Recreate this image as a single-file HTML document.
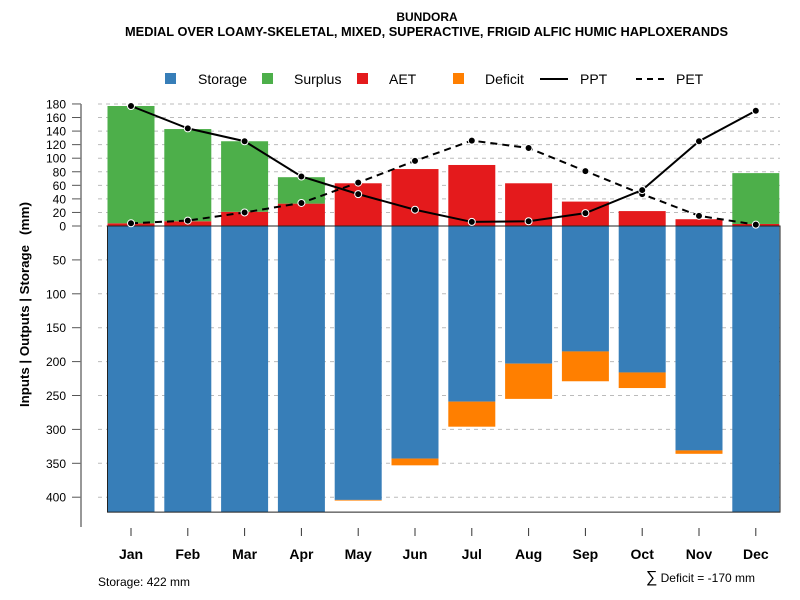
<!DOCTYPE html>
<html><head><meta charset="utf-8"><style>
html,body{margin:0;padding:0;background:#fff;}
svg{display:block;font-family:"Liberation Sans",sans-serif;}
</style></head><body>
<svg id="c" width="800" height="600" viewBox="0 0 800 600">
<text x="427" y="21" text-anchor="middle" font-size="12" font-weight="bold">BUNDORA</text>
<text x="125" y="36" textLength="603" lengthAdjust="spacingAndGlyphs" font-size="12.8" font-weight="bold">MEDIAL OVER LOAMY-SKELETAL, MIXED, SUPERACTIVE, FRIGID ALFIC HUMIC HAPLOXERANDS</text>
<g font-size="14">
<rect x="165" y="73" width="11" height="11" fill="#377eb8"/>
<text x="198" y="84">Storage</text>
<rect x="262" y="73" width="11" height="11" fill="#4daf4a"/>
<text x="294" y="84">Surplus</text>
<rect x="357" y="73" width="11" height="11" fill="#e41a1c"/>
<text x="389" y="84">AET</text>
<rect x="453" y="73" width="11" height="11" fill="#ff7f00"/>
<text x="485" y="84">Deficit</text>
<line x1="540" y1="79" x2="568" y2="79" stroke="#000" stroke-width="2"/>
<text x="580" y="84">PPT</text>
<line x1="636" y1="79" x2="664" y2="79" stroke="#000" stroke-width="2" stroke-dasharray="6,5"/>
<text x="676" y="84">PET</text>
</g>
<text transform="translate(29,407) rotate(-90)" textLength="162" lengthAdjust="spacingAndGlyphs" font-size="12.5" font-weight="bold">Inputs | Outputs | Storage</text>
<text transform="translate(29,235) rotate(-90)" textLength="33" lengthAdjust="spacingAndGlyphs" font-size="12.5" font-weight="bold">(mm)</text>
<g id="grid"></g><g id="bars"></g><g id="lines"></g><g id="axes"></g>
<text x="98" y="586" font-size="12">Storage: 422 mm</text>
<text x="755" y="582" text-anchor="end" font-size="12"><tspan font-size="16">∑</tspan> Deficit = -170 mm</text>
</svg>
<script>
const months=["Jan","Feb","Mar","Apr","May","Jun","Jul","Aug","Sep","Oct","Nov","Dec"];
const ppt=[177,144,125,73,47,24,6,7,19,53,125,170];
const pet=[4,8,20,34,64,96,126,115,81,47,15,2];
const aet=[4,7,21,33,63,84,90,63,36,22,10,3];
const surplus=[173,136,104,39,0,0,0,0,0,0,0,75];
const storage=[422,422,422,422,404,343,259,203,185,216,331,422];
const deficit=[0,0,0,0,1,10,37,52,44,23,5,0];
const upTicks=[0,20,40,60,80,100,120,140,160,180];
const downTicks=[50,100,150,200,250,300,350,400];
const maxStorage=422;
const NS="http://www.w3.org/2000/svg";
const y0=226,k=0.678;
const yU=v=>y0-v*k, yD=v=>y0+v*k;
const xC=i=>131+i*56.8, bw=47;
function mk(p,t,a){const e=document.createElementNS(NS,t);for(const n in a)e.setAttribute(n,a[n]);document.getElementById(p).appendChild(e);return e;}
upTicks.forEach(v=>{
 const g=mk("grid","line",{x1:98,x2:780,y1:yU(v),y2:yU(v),stroke:"#bbb","stroke-dasharray":"4,4"});
 
 
 const t=mk("axes","line",{x1:72,x2:81,y1:yU(v),y2:yU(v),stroke:"#555"});
 
 
 const l=mk("axes","text",{x:66,y:yU(v)+4.5,"text-anchor":"end","font-size":"12"});l.textContent=v;
 
 
});
downTicks.forEach(v=>{
 const g=mk("grid","line",{x1:98,x2:780,y1:yD(v),y2:yD(v),stroke:"#bbb","stroke-dasharray":"4,4"});
 
 
 const t=mk("axes","line",{x1:72,x2:81,y1:yD(v),y2:yD(v),stroke:"#555"});
 
 
 const l=mk("axes","text",{x:66,y:yD(v)+4.5,"text-anchor":"end","font-size":"12"});l.textContent=v;
 
 
});
const ax=mk("axes","line",{x1:81,x2:81,y1:104,y2:527,stroke:"#777","stroke-width":1.5});


months.forEach((m,i)=>{
 const x=xC(i)-bw/2;
 let r=mk("bars","rect",{x:x,y:y0,width:bw,height:storage[i]*k,fill:"#377eb8"});
 
 
 r=mk("bars","rect",{x:x,y:yD(storage[i]),width:bw,height:deficit[i]*k,fill:"#ff7f00"});
 
 
 r=mk("bars","rect",{x:x,y:yU(aet[i]),width:bw,height:aet[i]*k,fill:"#e41a1c"});
 
 
 r=mk("bars","rect",{x:x,y:yU(aet[i]+surplus[i]),width:bw,height:surplus[i]*k,fill:"#4daf4a"});
 
 
 const t=mk("axes","line",{x1:xC(i),x2:xC(i),y1:528,y2:536,stroke:"#333"});
 
 
 const l=mk("axes","text",{x:xC(i),y:559,"text-anchor":"middle","font-size":"14","font-weight":"bold"});l.textContent=m;
 
 
});
const box=mk("bars","rect",{x:xC(0)-bw/2,y:y0,width:780-(xC(0)-bw/2),height:maxStorage*k,fill:"none",stroke:"#222","stroke-width":1});


function series(vals,dash,name){
 const p=mk("lines","polyline",{points:vals.map((v,i)=>xC(i)+","+yU(v)).join(" "),fill:"none",stroke:"#000","stroke-width":2,"stroke-dasharray":dash});
 
 
 vals.forEach((v,i)=>{
  const c=mk("lines","circle",{cx:xC(i),cy:yU(v),r:3.5,fill:"#000",stroke:"#fff","stroke-width":1});
  
  
 });
}
series(pet,"7,5","pet");
series(ppt,"none","ppt");
</script>
</body></html>
